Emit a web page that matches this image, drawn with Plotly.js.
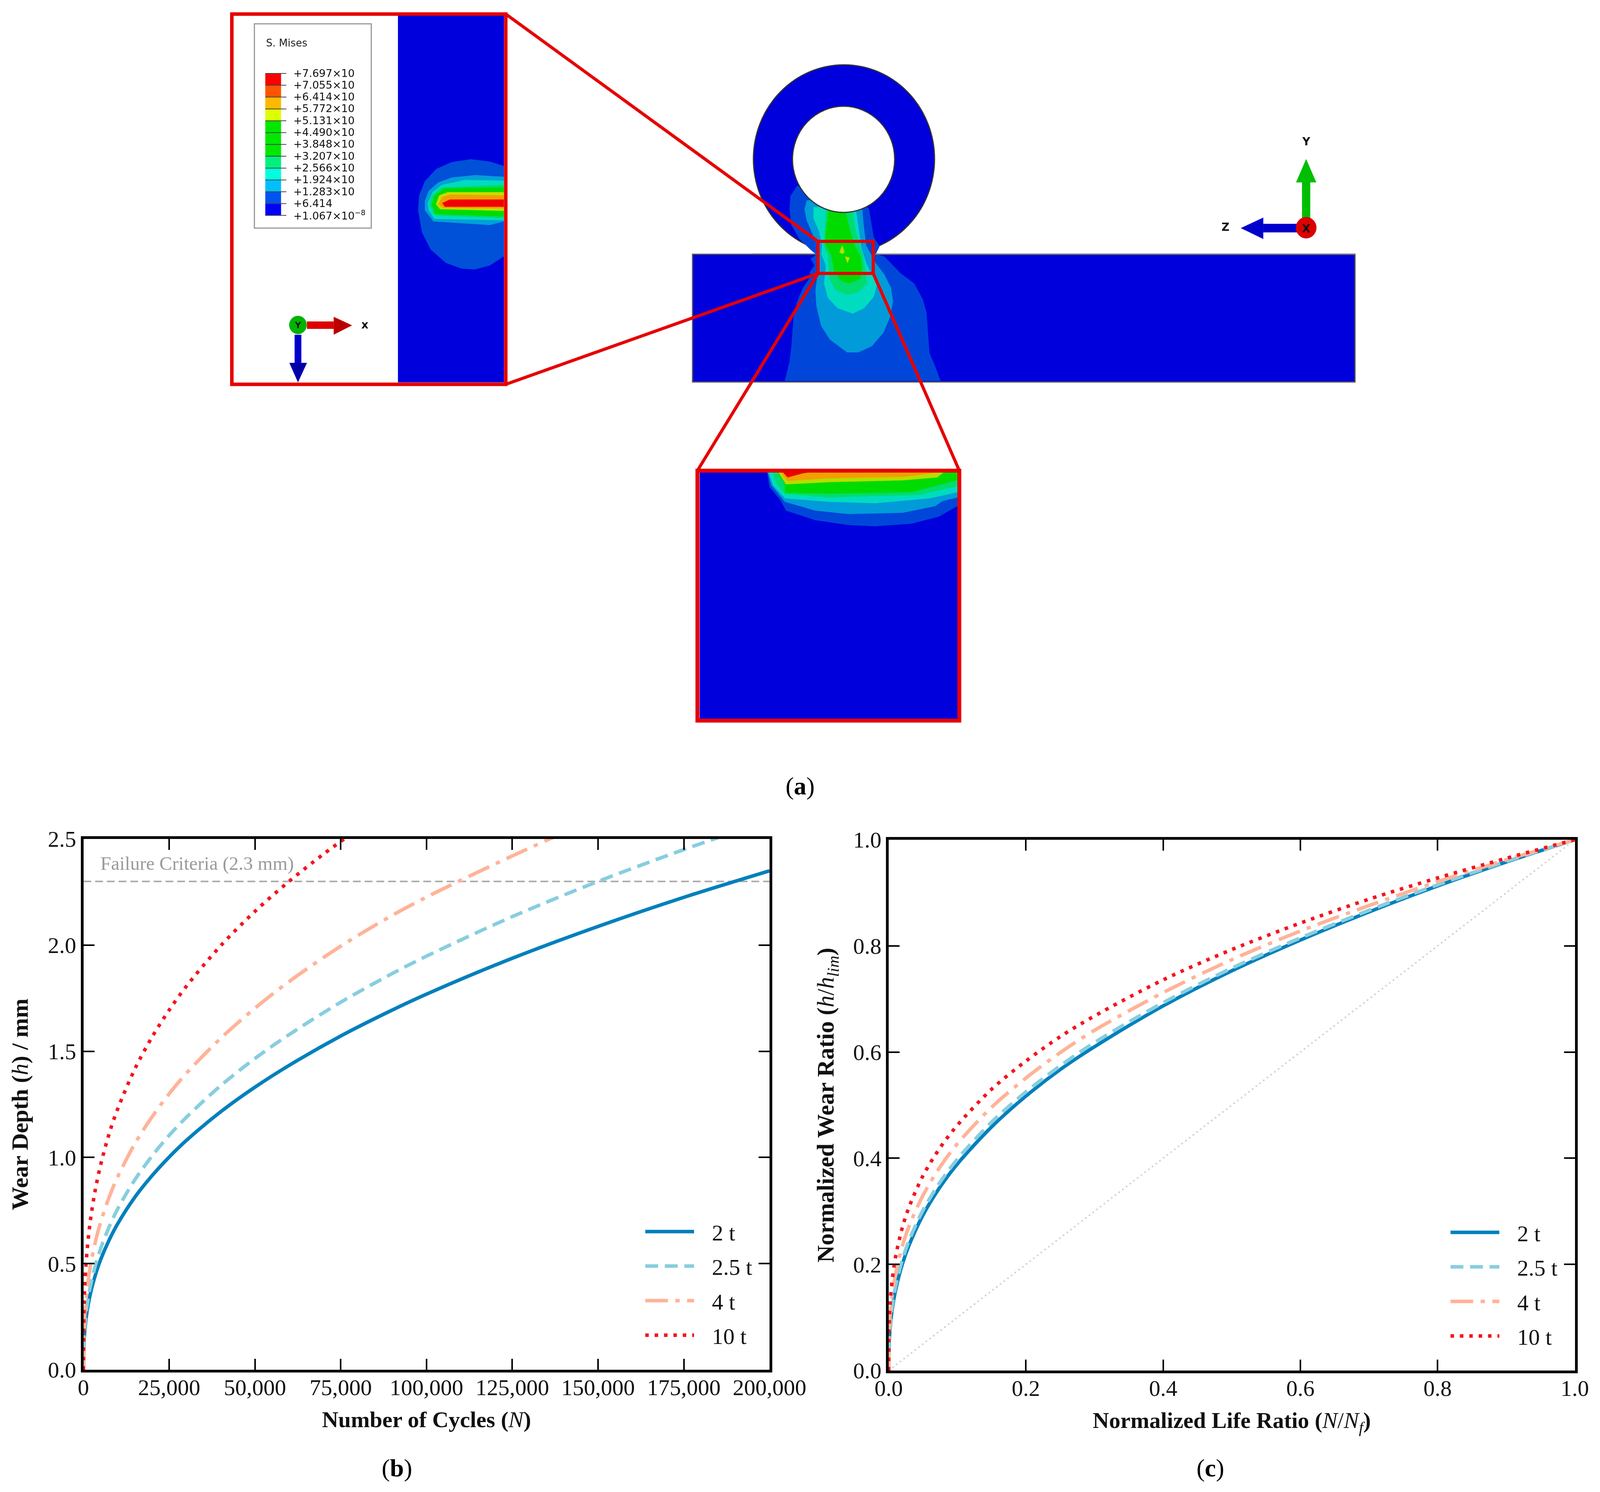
<!DOCTYPE html>
<html>
<head>
<meta charset="utf-8">
<script src="https://cdn.plot.ly/plotly-3.0.1.min.js"></script>
<style>html,body{margin:0;padding:0;background:#fff}</style>
</head>
<body>
<div id="myDiv1"></div>
<script>
// panel (b) wear depth vs cycles
var cycles = [0, 250, 500, 1000, 2000, 3500, 5000, 7500, 10000, 15000, 20000, 25000, 30000, 40000, 50000, 60000, 75000, 90000, 100000, 125000, 150000, 175000, 200000];
var wear2t = [0, 0.152, 0.201, 0.268, 0.356, 0.447, 0.518, 0.611, 0.688, 0.813, 0.914, 1.002, 1.080, 1.215, 1.331, 1.434, 1.572, 1.694, 1.769, 1.938, 2.088, 2.225, 2.35];
var cycles25t = [0, 250, 500, 1000, 2000, 3500, 5000, 7500, 10000, 15000, 20000, 25000, 30000, 40000, 50000, 60000, 75000, 90000, 100000, 125000, 150000, 175000, 190000];
var wear25t = [0, 0.168, 0.221, 0.295, 0.392, 0.492, 0.570, 0.673, 0.758, 0.895, 1.007, 1.104, 1.189, 1.338, 1.466, 1.579, 1.731, 1.866, 1.948, 2.134, 2.300, 2.450, 2.534];
var cycles4t = [0, 250, 500, 1000, 2000, 3500, 5000, 7500, 10000, 15000, 20000, 25000, 30000, 40000, 50000, 60000, 75000, 90000, 100000, 108000, 125000, 140000];
var wear4t = [0, 0.216, 0.283, 0.370, 0.485, 0.604, 0.694, 0.813, 0.909, 1.065, 1.191, 1.300, 1.396, 1.561, 1.703, 1.829, 1.995, 2.140, 2.226, 2.29, 2.42, 2.53];
var cycles10t = [0, 250, 500, 1000, 2000, 3500, 5000, 7500, 10000, 15000, 20000, 25000, 30000, 40000, 50000, 60000, 70000, 78000];
var wear10t = [0, 0.338, 0.431, 0.549, 0.700, 0.851, 0.964, 1.112, 1.229, 1.417, 1.567, 1.694, 1.806, 1.997, 2.159, 2.301, 2.429, 2.523];
var failureX = [0, 200000];
var failureY = [2.3, 2.3];

// panel (c) normalized curves
var lifeRatio = [0, 0.001, 0.0025, 0.005, 0.01, 0.02, 0.03, 0.05, 0.075, 0.1, 0.15, 0.2, 0.25, 0.3, 0.4, 0.5, 0.6, 0.7, 0.8, 0.9, 1];
var ratio2t = [0, 0.059, 0.086, 0.114, 0.151, 0.201, 0.237, 0.293, 0.346, 0.389, 0.459, 0.517, 0.567, 0.610, 0.687, 0.753, 0.811, 0.864, 0.913, 0.958, 1];
var ratio25t = [0, 0.063, 0.091, 0.120, 0.158, 0.209, 0.246, 0.302, 0.355, 0.398, 0.468, 0.525, 0.574, 0.618, 0.693, 0.758, 0.815, 0.867, 0.915, 0.959, 1];
var ratio4t = [0, 0.078, 0.109, 0.141, 0.182, 0.235, 0.273, 0.330, 0.384, 0.427, 0.496, 0.551, 0.599, 0.641, 0.712, 0.774, 0.828, 0.876, 0.921, 0.962, 1];
var ratio10t = [0, 0.099, 0.134, 0.169, 0.214, 0.270, 0.309, 0.367, 0.420, 0.462, 0.530, 0.583, 0.629, 0.668, 0.736, 0.793, 0.843, 0.888, 0.928, 0.965, 1];
var diagonal = [0, 1];

var seriesNames = ['2 t', '2.5 t', '4 t', '10 t'];
var seriesColors = ['#0080BC', '#87CEDF', '#FFB399', '#F5141E'];
var seriesDash = ['solid', '33px,17px', '58px,19px,11px,19px', '9px,15px'];

// panel (a) colour scale
var scaleLabels = ['+7.697×10', '+7.055×10', '+6.414×10', '+5.772×10', '+5.131×10', '+4.490×10', '+3.848×10', '+3.207×10', '+2.566×10', '+1.924×10', '+1.283×10', '+6.414', '+1.067×10<sup>−8</sup>'];
var scaleColors = ['#FF0000', '#FF5500', '#FFB900', '#DDFF00', '#00E800', '#00E800', '#00E800', '#00F080', '#00FFE0', '#00BFFF', '#0055F0', '#0000FF'];

// contour outlines of the FE model, traced in crop pixels of each view
var ringZone1X = [630, 595, 590, 600, 640, 700, 730, 700, 720, 695, 700, 660, 630, 610, 600, 590, 565, 1378, 1350, 1320, 1305, 1285, 1240, 1170, 1085, 1040, 1060, 1030, 1015, 1005, 960];
var ringZone1Y = [585, 630, 690, 760, 820, 870, 892, 910, 940, 970, 990, 1040, 1100, 1180, 1300, 1370, 1455, 1455, 1390, 1330, 1150, 1090, 1020, 975, 900, 890, 855, 815, 740, 690, 640];
var ringZone2X = [680, 668, 680, 700, 730, 745, 740, 725, 730, 755, 800, 890, 950, 1020, 1080, 1115, 1130, 1120, 1085, 1040, 1015, 990, 975, 970, 800];
var ringZone2Y = [650, 690, 740, 780, 840, 890, 960, 1050, 1120, 1210, 1270, 1328, 1328, 1300, 1240, 1170, 1100, 1040, 980, 930, 890, 850, 740, 690, 640];
var ringZone3X = [715, 715, 745, 760, 755, 780, 770, 790, 840, 920, 980, 1030, 1045, 1020, 990, 965, 945, 935];
var ringZone3Y = [680, 730, 790, 850, 890, 940, 1020, 1085, 1130, 1155, 1130, 1080, 1030, 980, 930, 860, 740, 680];
var ringZone4X = [770, 790, 800, 830, 890, 950, 995, 985, 975, 950, 930, 920, 780];
var ringZone4Y = [850, 900, 1000, 1050, 1070, 1060, 1020, 960, 900, 830, 770, 690, 690];
var ringZone5X = [795, 780, 775, 810, 820, 860, 905, 960, 970, 960, 925, 905, 880];
var ringZone5Y = [690, 780, 840, 900, 960, 1010, 1020, 1000, 950, 900, 840, 780, 690];
var ringSpotAX = [865, 850, 865, 878];
var ringSpotAY = [850, 880, 890, 880];
var ringSpotBX = [880, 892, 905];
var ringSpotBY = [900, 930, 905];

var sideZone1X = [1452, 1380, 1280, 1180, 1100, 1040, 1010, 1005, 1025, 1070, 1150, 1230, 1300, 1380, 1452];
var sideZone1Y = [648, 630, 620, 632, 660, 710, 770, 830, 920, 990, 1045, 1068, 1072, 1055, 1018];
var sideZone2X = [1452, 1300, 1180, 1110, 1060, 1040, 1040, 1085, 1380, 1452];
var sideZone2Y = [692, 685, 695, 715, 750, 790, 830, 875, 890, 875];
var sideZone3X = [1452, 1250, 1130, 1080, 1055, 1060, 1090, 1452];
var sideZone3Y = [708, 705, 725, 755, 800, 830, 865, 870];
var sideZone4X = [1452, 1130, 1075, 1065, 1090, 1452];
var sideZone4Y = [725, 735, 770, 810, 850, 862];
var sideZone5X = [1452, 1140, 1090, 1075, 1095, 1452];
var sideZone5Y = [735, 740, 770, 805, 845, 855];
var sideZone6X = [1452, 1160, 1115, 1098, 1120, 1452];
var sideZone6Y = [755, 755, 768, 805, 825, 832];
var sideZone7X = [1452, 1170, 1130, 1110, 1135, 1452];
var sideZone7Y = [768, 765, 775, 805, 820, 822];
var sideZone8X = [1452, 1170, 1130, 1145, 1452];
var sideZone8Y = [785, 785, 800, 815, 815];

var topZone1X = [457, 470, 530, 560, 720, 900, 1050, 1250, 1400, 1503, 1503];
var topZone1Y = [67, 150, 225, 285, 340, 368, 375, 360, 320, 258, 67];
var topZone2X = [460, 480, 555, 720, 900, 1200, 1380, 1420, 1503, 1503];
var topZone2Y = [67, 140, 235, 285, 305, 298, 260, 230, 210, 67];
var topZone3X = [465, 490, 555, 800, 1050, 1350, 1503, 1503];
var topZone3Y = [67, 140, 215, 235, 243, 215, 180, 67];
var topZone4X = [490, 505, 555, 800, 1300, 1503, 1503];
var topZone4Y = [67, 130, 190, 210, 195, 145, 67];
var topZone5X = [515, 555, 555, 800, 1250, 1503, 1503];
var topZone5Y = [67, 135, 185, 188, 180, 110, 67];
var topZone6X = [520, 560, 800, 1200, 1390, 1425];
var topZone6Y = [67, 135, 122, 112, 95, 67];
var topZone7X = [530, 570, 800, 1200, 1400];
var topZone7Y = [67, 115, 100, 92, 67];
var topZone8X = [545, 570, 650, 680];
var topZone8Y = [67, 95, 72, 67];

// the browser stops at 4096 wide, the drawing axes keep the reference's 4258 units
var W = 4258, H = 3820, pageW = 4096;
var redFrame = '#E60000';
var feBlue = '#0000DC';
var serif = '"Liberation Serif", "Times New Roman", serif';
var sans = '"DejaVu Sans", sans-serif';

var shapes = [];
var notes = [];

function addBox(x0, y0, x1, y1, fill, line, width) {
  shapes.push({type: 'rect', xref: 'x3', yref: 'y3', x0: x0, y0: y0, x1: x1, y1: y1, fillcolor: fill, line: {color: line, width: width}});
}
function addDisc(cx, cy, r, fill, line, width) {
  shapes.push({type: 'circle', xref: 'x3', yref: 'y3', x0: cx - r, y0: cy - r, x1: cx + r, y1: cy + r, fillcolor: fill, line: {color: line, width: width}});
}
function addSeg(x0, y0, x1, y1, color, width) {
  shapes.push({type: 'line', xref: 'x3', yref: 'y3', x0: x0, y0: y0, x1: x1, y1: y1, line: {color: color, width: width}});
}
function addPoly(xs, ys, fill) {
  var path = 'M' + xs.map(function (x, i) { return x + ',' + ys[i]; }).join('L') + 'Z';
  shapes.push({type: 'path', xref: 'x3', yref: 'y3', path: path, fillcolor: fill, line: {width: 0}});
}
// crop pixels -> page pixels
function addZone(zx, zy, ox, oy, sx, sy, fill) {
  addPoly(zx.map(function (v) { return ox + v / sx; }), zy.map(function (v) { return oy + v / sy; }), fill);
}
function addNote(x, y, text, size, color, family, anchor) {
  notes.push({xref: 'x3', yref: 'y3', x: x, y: y, text: text, showarrow: false, xanchor: anchor || 'center', yanchor: 'middle',
    font: {size: size, color: color || '#000', family: family || serif}});
}

// middle view: plate and ring
addDisc(2246, 407, 241, feBlue, '#333', 3);
addBox(1843, 651, 3606, 978, feBlue, '#555', 3);
function ring(zx, zy, fill) { addZone(zx, zy, 1800, 140, 1.96, 1.742, fill); }
ring(ringZone1X, ringZone1Y, '#0047D9');
ring(ringZone2X, ringZone2Y, '#009BD8');
ring(ringZone3X, ringZone3Y, '#00DCC0');
ring(ringZone4X, ringZone4Y, '#00DC6E');
ring(ringZone5X, ringZone5Y, '#00DC00');
ring(ringSpotAX, ringSpotAY, '#B8DC00');
ring(ringSpotBX, ringSpotBY, '#C8DC00');
addDisc(2245, 408, 136, '#FFFFFF', '#333', 3);
addSeg(2000, 651, 2178, 651, '#555', 3);
addSeg(2324, 651, 3606, 651, '#777', 3);

// left inset
addBox(1059, 39, 1341, 979, feBlue, feBlue, 0);
function side(zx, zy, fill) { addZone(zx, zy, 600, 20, 1.96, 1.6, fill); }
side(sideZone1X, sideZone1Y, '#0050D8');
side(sideZone2X, sideZone2Y, '#00A0D8');
side(sideZone3X, sideZone3Y, '#00DCC0');
side(sideZone4X, sideZone4Y, '#00DC6E');
side(sideZone5X, sideZone5Y, '#00DC00');
side(sideZone6X, sideZone6Y, '#C8DC00');
side(sideZone7X, sideZone7Y, '#F0A000');
side(sideZone8X, sideZone8Y, '#F00000');

// scale box
addBox(677, 61, 988, 584, '#FFFFFF', '#999', 3);
addNote(706, 110, 'S. Mises', 26, '#222', sans, 'left');
var scaleTop = 188, scaleStep = 30.3;
scaleColors.forEach(function (c, i) {
  addBox(706, scaleTop + i * scaleStep, 748, scaleTop + (i + 1) * scaleStep, c, c, 0);
});
scaleLabels.forEach(function (t, i) {
  var y = scaleTop + i * scaleStep;
  addSeg(706, y, 762, y, '#444', 2);
  addNote(779, y - 1, t, 27, '#111', sans, 'left');
});

// triads
addBox(817, 823, 888, 842, '#DD0000', '#DD0000', 0);
addPoly([888, 937, 888], [811, 833, 857], '#BB0000');
addBox(784, 857, 802, 929, '#0000CC', '#0000CC', 0);
addPoly([770, 817, 793], [929, 929, 979], '#0000AA');
addDisc(793, 832, 23, '#00B400', '#00A000', 1);
addNote(793, 832, '<b>Y</b>', 22, '#111', sans);
addNote(971, 831, '<b>x</b>', 28, '#111', sans);

addBox(3465, 467, 3487, 560, '#00BE00', '#00BE00', 0);
addPoly([3449, 3476, 3503], [467, 407, 467], '#00BE00');
addBox(3362, 573, 3452, 595, '#0000CC', '#0000CC', 0);
addPoly([3362, 3302, 3362], [557, 584, 612], '#0000CC');
addDisc(3476, 583, 27, '#DD0000', '#CC0000', 1);
addNote(3476, 585, '<b>X</b>', 28, '#111', sans);
addNote(3476, 362, '<b>Y</b>', 28, '#111', sans);
addNote(3261, 581, '<b>Z</b>', 28, '#111', sans);

// lower inset
addBox(1862, 1210, 2548, 1840, feBlue, feBlue, 0);
function top_(zx, zy, fill) { addZone(zx, zy, 1820, 1180, 2.063, 2.24, fill); }
top_(topZone1X, topZone1Y, '#0047D9');
top_(topZone2X, topZone2Y, '#009BD8');
top_(topZone3X, topZone3Y, '#00DCC0');
top_(topZone4X, topZone4Y, '#00DC6E');
top_(topZone5X, topZone5Y, '#00DC00');
top_(topZone6X, topZone6Y, '#B8DC00');
top_(topZone7X, topZone7Y, '#F0A000');
top_(topZone8X, topZone8Y, '#F00000');

// red frames and connectors
addBox(617, 36, 1346, 984, 'rgba(0,0,0,0)', redFrame, 9);
addBox(2177, 618, 2324, 700, 'rgba(0,0,0,0)', redFrame, 8);
addBox(1856, 1205, 2553, 1845, 'rgba(0,0,0,0)', redFrame, 10);
addSeg(1346, 36, 2177, 618, redFrame, 8);
addSeg(1346, 984, 2177, 700, redFrame, 8);
addSeg(2177, 700, 1856, 1205, redFrame, 8);
addSeg(2324, 700, 2553, 1205, redFrame, 8);

// captions
addNote(2129, 2012, '(<b>a</b>)', 64);
addNote(1056, 3758, '(<b>b</b>)', 64);
addNote(3221, 3758, '(<b>c</b>)', 64);

// failure text sits on panel b axes
notes.push({xref: 'x', yref: 'y', x: 4700, y: 2.385, text: 'Failure Criteria (2.3 mm)', showarrow: false, xanchor: 'left', yanchor: 'middle',
  font: {size: 49, color: '#9A9A9A', family: serif}});

function curve(x, y, i, xa, ya, legendId) {
  return {x: x, y: y, name: '\u2002\u2009' + seriesNames[i], type: 'scatter', mode: 'lines', xaxis: xa, yaxis: ya,
    legend: legendId, legendgroup: legendId + i, hoverinfo: 'none',
    line: {color: seriesColors[i], width: 9, dash: seriesDash[i], shape: 'spline', smoothing: 0.9, simplify: false}};
}

var data = [
  {x: failureX, y: failureY, type: 'scatter', mode: 'lines', showlegend: false, hoverinfo: 'none', xaxis: 'x', yaxis: 'y',
    line: {color: '#ABABAB', width: 4, dash: '20px,10px'}},
  curve(cycles, wear2t, 0, 'x', 'y', 'legend'),
  curve(cycles25t, wear25t, 1, 'x', 'y', 'legend'),
  curve(cycles4t, wear4t, 2, 'x', 'y', 'legend'),
  curve(cycles10t, wear10t, 3, 'x', 'y', 'legend'),
  {x: diagonal, y: diagonal, type: 'scatter', mode: 'lines', showlegend: false, hoverinfo: 'none', xaxis: 'x2', yaxis: 'y2',
    line: {color: '#CFCFCF', width: 4, dash: '4px,8px'}},
  curve(lifeRatio, ratio2t, 0, 'x2', 'y2', 'legend2'),
  curve(lifeRatio, ratio25t, 1, 'x2', 'y2', 'legend2'),
  curve(lifeRatio, ratio4t, 2, 'x2', 'y2', 'legend2'),
  curve(lifeRatio, ratio10t, 3, 'x2', 'y2', 'legend2'),
  // keeps the page-pixel axes alive for the drawing in panel a
  {x: [0, W], y: [0, H], type: 'scatter', mode: 'markers', opacity: 0, showlegend: false, hoverinfo: 'none', xaxis: 'x3', yaxis: 'y3'}
];

function frameAxis(extra) {
  var base = {
    showline: true, linecolor: '#000', linewidth: 7, mirror: 'ticks', ticks: 'inside', ticklen: 28, tickwidth: 4, tickcolor: '#000',
    showgrid: false, zeroline: false, tickangle: 0, fixedrange: true,
    tickfont: {family: serif, size: 58, color: '#111'}
  };
  return Object.assign(base, extra);
}
function legendAt(x, y) {
  return {x: x / W, y: 1 - y / H, xanchor: 'left', yanchor: 'top', bgcolor: 'rgba(0,0,0,0)', borderwidth: 0,
    itemwidth: 125, traceorder: 'grouped', tracegroupgap: 10, font: {family: serif, size: 58, color: '#111'}};
}

var layout = {
  width: pageW, height: H,
  margin: {t: 0, b: 0, l: 0, r: 0},
  paper_bgcolor: '#fff', plot_bgcolor: 'rgba(0,0,0,0)',
  showlegend: true,
  xaxis: frameAxis({domain: [222 / W, 2048 / W], range: [0, 200000], dtick: 25000, tickformat: ',d', anchor: 'y', ticklabelstandoff: -12,
    title: {text: '<b>Number of Cycles (</b><i>N</i><b>)</b>', standoff: 32, font: {family: serif, size: 58, color: '#111'}}}),
  yaxis: frameAxis({domain: [1 - 3507 / H, 1 - 2148 / H], range: [0, 2.5], dtick: 0.5, tickformat: '.1f', anchor: 'x',
    title: {text: '<b>Wear Depth (</b><i>h</i><b>) / mm</b>', standoff: 34, font: {family: serif, size: 60, color: '#111'}}}),
  xaxis2: frameAxis({domain: [2365 / W, 4191 / W], range: [0, 1], dtick: 0.2, tickformat: '.1f', anchor: 'y2', ticklabelstandoff: -12,
    title: {text: '<b>Normalized Life Ratio (</b><i>N</i>/<i>N<sub>f</sub></i><b>)</b>', standoff: 32, font: {family: serif, size: 58, color: '#111'}}}),
  yaxis2: frameAxis({domain: [1 - 3509 / H, 1 - 2150 / H], range: [0, 1], dtick: 0.2, tickformat: '.1f', anchor: 'x2',
    title: {text: '<b>Normalized Wear Ratio (</b><i>h</i>/<i>h<sub>lim</sub></i><b>)</b>', standoff: 32, font: {family: serif, size: 61, color: '#111'}}}),
  xaxis3: {domain: [0, 1], range: [0, W], visible: false, fixedrange: true, anchor: 'y3'},
  yaxis3: {domain: [0, 1], range: [H, 0], visible: false, fixedrange: true, anchor: 'x3'},
  legend: legendAt(1712, 3109),
  legend2: legendAt(3855, 3111),
  shapes: shapes,
  annotations: notes
};

var config = {responsive: false, displayModeBar: false, staticPlot: true};

Plotly.newPlot('myDiv1', data, layout, config);
</script>
</body>
</html>
